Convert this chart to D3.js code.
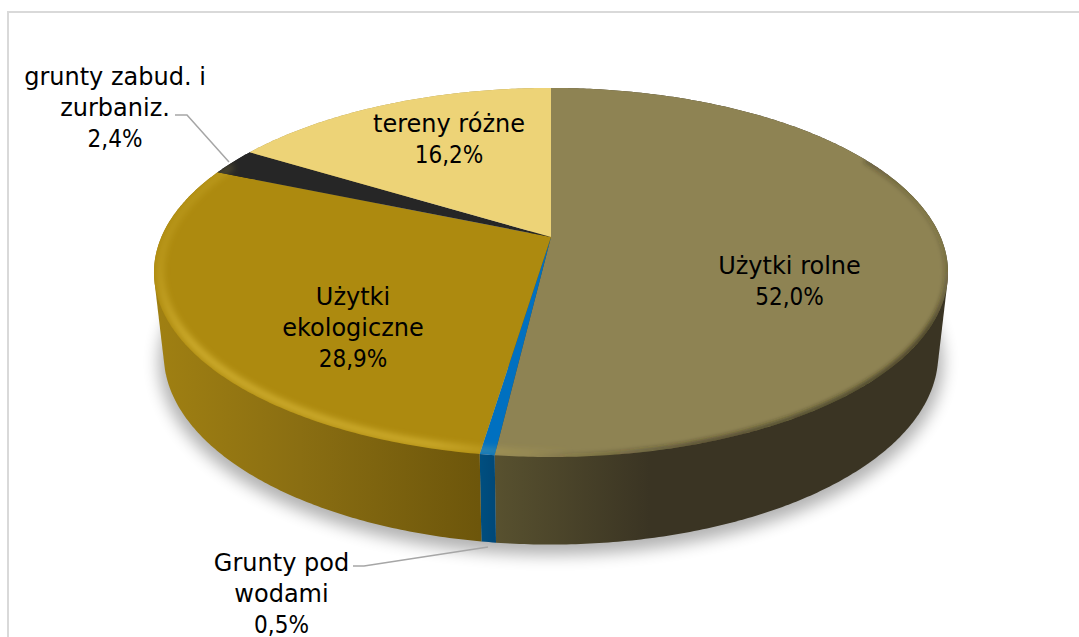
<!DOCTYPE html>
<html>
<head>
<meta charset="utf-8">
<script src="https://cdnjs.cloudflare.com/ajax/libs/d3/7.8.5/d3.min.js"></script>
<style>
  html, body { margin: 0; padding: 0; background: #fff; overflow: hidden; }
  text { font-family: "DejaVu Sans", sans-serif; font-size: 24px; fill: #000; }
  tspan.pct { font-family: "DejaVu Sans Condensed", "DejaVu Sans", sans-serif; }
</style>
</head>
<body>
<script>
// Dane wykresu
const categories = ['Użytki rolne', 'Grunty pod wodami', 'Użytki ekologiczne', 'grunty zabud. i zurbaniz.', 'tereny różne'];
const shares = [52.0, 0.5, 28.9, 2.4, 16.2];
const faceColors = ['#8e8353', '#0070c0', '#ad8a0f', '#262626', '#edd377'];
const wallStops = [
    [[495, '#58512f'], [650, '#3a3423']],
    [[479, '#004f80'], [495, '#004878']],
    [[155, '#a08012'], [300, '#8a6e12'], [479, '#6d560b']],
    [[219, '#1c1c1c'], [250, '#1c1c1c']],
    [[250, '#a8944f'], [551, '#a8944f']]
];
// wiersze etykiet (podział jak w oryginale)
const labelLines = [
    ['Użytki rolne', '52,0%'],
    ['Grunty pod', 'wodami', '0,5%'],
    ['Użytki', 'ekologiczne', '28,9%'],
    ['grunty zabud. i', 'zurbaniz.', '2,4%'],
    ['tereny różne', '16,2%']
];
const labelPos = [[789.5, 273.5], [281.5, 570.5], [353, 305], [115, 85], [449, 132]];
const leaders = [null, [[353, 566], [364, 566], [488, 547]], null, [[175, 115], [187, 115], [229, 162]], null];

const width = 1079, height = 637;
const svg = d3.select('body').append('svg').attr('width', width).attr('height', height);
const defs = svg.append('defs');

// rzut perspektywiczny okręgu: góra i dół walca
const k = 0.1923;
const levels = [
    { A: 389.6, B: 177.7, y0: 237 },
    { A: 380, B: 183, y0: 318 }
];
const warpEnd = 293 * Math.PI / 180;
function proj(a0, r, lev) {
    // drobna korekta kąta z przodu wykresu
    const a = a0 < warpEnd ? a0 - 0.0092 * Math.sin(Math.PI * a0 / warpEnd) : a0;
    const u = r * Math.sin(a), v = -r * Math.cos(a), L = levels[lev];
    const d = 1 - k * v;
    return [551 + L.A * u / d, L.y0 + L.B * v / d];
}
function arcPoints(a0, a1, r, lev) {
    const n = Math.max(2, Math.ceil(Math.abs(a1 - a0) / 0.01));
    return d3.range(n + 1).map(i => proj(a0 + (a1 - a0) * i / n, r, lev));
}
const line = d3.line();

const arcs = d3.pie().sort(null).value(d => d)(shares);

// filtry
const blur = (id, s) => defs.append('filter').attr('id', id)
    .attr('x', '-20%').attr('y', '-20%').attr('width', '140%').attr('height', '140%')
    .append('feGaussianBlur').attr('stdDeviation', s);
blur('shadow', 8);
blur('soft', 3);
blur('softDark', 2.2);

// cień pod walcem
svg.append('path')
    .attr('d', line(arcPoints(0, 2 * Math.PI, 1.012, 1)) + 'Z')
    .attr('transform', 'translate(0,7)')
    .attr('fill', '#000').attr('opacity', 0.3).attr('filter', 'url(#shadow)');

// ramka (prawa i dolna krawędź poza kadrem)
svg.append('path')
    .attr('d', 'M8,637V12H1079')
    .attr('fill', 'none').attr('stroke', '#d9d9d9').attr('stroke-width', 2);

// ściany boczne
wallStops.forEach((stops, i) => {
    const g = defs.append('linearGradient').attr('id', 'wall' + i)
        .attr('gradientUnits', 'userSpaceOnUse')
        .attr('x1', stops[0][0]).attr('x2', stops[stops.length - 1][0]).attr('y1', 0).attr('y2', 0);
    stops.forEach(s => g.append('stop')
        .attr('offset', (s[0] - stops[0][0]) / (stops[stops.length - 1][0] - stops[0][0]))
        .attr('stop-color', s[1]));
});
svg.append('g').selectAll('path').data(arcs).enter().append('path')
    .attr('d', d => line(d3.polygonHull(
        arcPoints(d.startAngle, d.endAngle, 1, 0).concat(arcPoints(d.startAngle, d.endAngle, 1, 1)))) + 'Z')
    .attr('fill', (d, i) => 'url(#wall' + i + ')');

// górna powierzchnia
const facePath = d => line([proj(0, 0, 0)].concat(arcPoints(d.startAngle, d.endAngle, 1, 0))) + 'Z';
svg.append('g').selectAll('path').data(arcs).enter().append('path')
    .attr('d', facePath)
    .attr('fill', (d, i) => faceColors[i]);

// fazowanie krawędzi, przycięte do powierzchni
defs.append('clipPath').attr('id', 'faceClip').append('path')
    .attr('d', line(arcPoints(0, 2 * Math.PI, 1, 0)) + 'Z');
const rad = deg => deg * Math.PI / 180;
const bevel = svg.append('g').attr('clip-path', 'url(#faceClip)');

const hl = defs.append('linearGradient').attr('id', 'hl').attr('gradientUnits', 'userSpaceOnUse')
    .attr('x1', 190).attr('y1', 190).attr('x2', 560).attr('y2', 470);
[[0, 0.12], [0.2, 0.42], [0.75, 0.4], [0.85, 0.18], [1, 0]].forEach(s =>
    hl.append('stop').attr('offset', s[0]).attr('stop-color', '#ffdf5a').attr('stop-opacity', s[1]));
bevel.append('path')
    .attr('d', line(arcPoints(rad(160), rad(296), 0.985, 0)))
    .attr('fill', 'none').attr('stroke', 'url(#hl)').attr('stroke-width', 7)
    .attr('filter', 'url(#soft)');

const dk = defs.append('linearGradient').attr('id', 'dk').attr('gradientUnits', 'userSpaceOnUse')
    .attr('x1', 950).attr('y1', 215).attr('x2', 540).attr('y2', 470);
[[0, 0], [0.16, 0.65], [0.7, 0.5], [1, 0]].forEach(s =>
    dk.append('stop').attr('offset', s[0]).attr('stop-color', '#2a2515').attr('stop-opacity', s[1]));
bevel.append('path')
    .attr('d', line(arcPoints(rad(62), rad(187), 1, 0)))
    .attr('fill', 'none').attr('stroke', 'url(#dk)').attr('stroke-width', 7)
    .attr('filter', 'url(#softDark)');

// linie odniesienia
svg.append('g').selectAll('path').data(leaders.filter(d => d)).enter().append('path')
    .attr('d', d => line(d))
    .attr('fill', 'none').attr('stroke', '#a6a6a6').attr('stroke-width', 1.5);

// etykiety
const labels = svg.append('g').selectAll('text').data(labelLines).enter().append('text')
    .attr('text-anchor', 'middle')
    .attr('transform', (d, i) => `translate(${labelPos[i][0]},${labelPos[i][1]})`);
labels.selectAll('tspan').data(d => d).enter().append('tspan')
    .attr('class', d => d.endsWith('%') ? 'pct' : null)
    .attr('x', 0).attr('dy', (d, i) => i ? 31.2 : 0).text(d => d);
</script>
</body>
</html>
